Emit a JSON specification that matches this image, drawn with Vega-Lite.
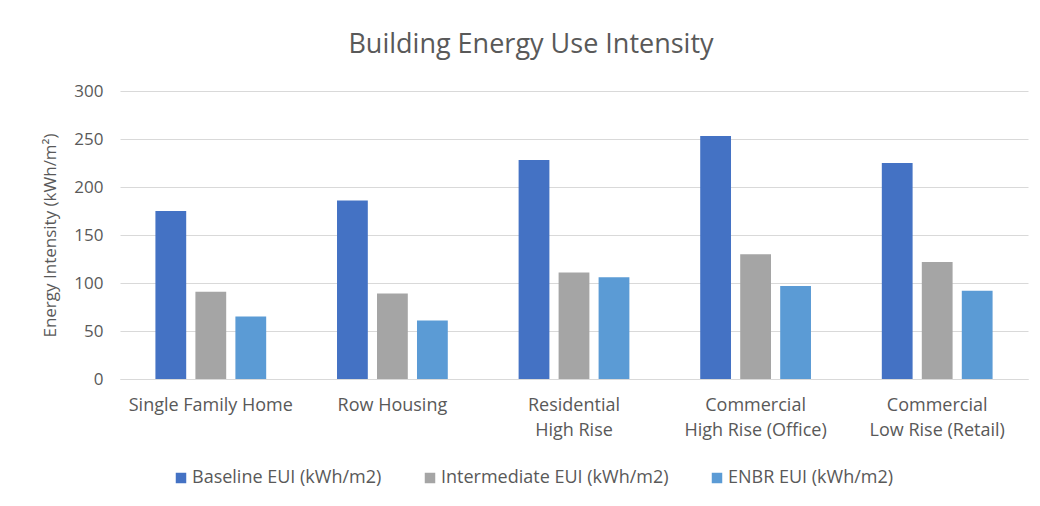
{
  "$schema": "https://vega.github.io/schema/vega-lite/v6.json",
  "width": 908,
  "height": 288,
  "autosize": {"type": "none"},
  "padding": {"left": 120, "top": 91, "right": 12, "bottom": 127},
  "background": "#ffffff",
  "title": {
    "text": "Building Energy Use Intensity",
    "anchor": "middle",
    "frame": "group",
    "dx": -43,
    "offset": 23,
    "font": "Open Sans",
    "fontSize": 27,
    "fontWeight": "normal",
    "color": "#595959"
  },
  "data": {
    "values": [
      {"building": "Single Family Home", "series": "Baseline EUI (kWh/m2)", "eui": 175},
      {"building": "Single Family Home", "series": "Intermediate EUI (kWh/m2)", "eui": 91},
      {"building": "Single Family Home", "series": "ENBR EUI (kWh/m2)", "eui": 65},
      {"building": "Row Housing", "series": "Baseline EUI (kWh/m2)", "eui": 186},
      {"building": "Row Housing", "series": "Intermediate EUI (kWh/m2)", "eui": 89},
      {"building": "Row Housing", "series": "ENBR EUI (kWh/m2)", "eui": 61},
      {"building": "Residential\nHigh Rise", "series": "Baseline EUI (kWh/m2)", "eui": 228},
      {"building": "Residential\nHigh Rise", "series": "Intermediate EUI (kWh/m2)", "eui": 111},
      {"building": "Residential\nHigh Rise", "series": "ENBR EUI (kWh/m2)", "eui": 106},
      {"building": "Commercial\nHigh Rise (Office)", "series": "Baseline EUI (kWh/m2)", "eui": 253},
      {"building": "Commercial\nHigh Rise (Office)", "series": "Intermediate EUI (kWh/m2)", "eui": 130},
      {"building": "Commercial\nHigh Rise (Office)", "series": "ENBR EUI (kWh/m2)", "eui": 97},
      {"building": "Commercial\nLow Rise (Retail)", "series": "Baseline EUI (kWh/m2)", "eui": 225},
      {"building": "Commercial\nLow Rise (Retail)", "series": "Intermediate EUI (kWh/m2)", "eui": 122},
      {"building": "Commercial\nLow Rise (Retail)", "series": "ENBR EUI (kWh/m2)", "eui": 92}
    ]
  },
  "mark": {"type": "bar"},
  "encoding": {
    "x": {
      "field": "building",
      "type": "nominal",
      "sort": null,
      "scale": {"paddingInner": 0.39, "paddingOuter": 0.195},
      "axis": {
        "title": null,
        "labelAngle": 0,
        "labelExpr": "split(datum.label, '\\n')",
        "labelLineHeight": 25,
        "labelPadding": 17,
        "labelBaseline": "top",
        "labelFontSize": 18,
        "labelLimit": 0,
        "ticks": false,
        "domainColor": "#d9d9d9",
        "grid": false
      }
    },
    "xOffset": {
      "field": "series",
      "type": "nominal",
      "sort": ["Baseline EUI (kWh/m2)", "Intermediate EUI (kWh/m2)", "ENBR EUI (kWh/m2)"],
      "scale": {"paddingInner": 0.23, "paddingOuter": 0}
    },
    "y": {
      "field": "eui",
      "type": "quantitative",
      "scale": {"domain": [0, 300], "nice": false},
      "axis": {
        "title": "Energy Intensity (kWh/m²)",
        "values": [0, 50, 100, 150, 200, 250, 300],
        "ticks": false,
        "domain": false,
        "labelFontSize": 17,
        "labelPadding": 17,
        "titlePadding": 14,
        "titleFontSize": 17,
        "gridColor": "#d9d9d9"
      }
    },
    "color": {
      "field": "series",
      "type": "nominal",
      "sort": ["Baseline EUI (kWh/m2)", "Intermediate EUI (kWh/m2)", "ENBR EUI (kWh/m2)"],
      "scale": {
        "domain": ["Baseline EUI (kWh/m2)", "Intermediate EUI (kWh/m2)", "ENBR EUI (kWh/m2)"],
        "range": ["#4472c4", "#a5a5a5", "#5b9bd5"]
      },
      "legend": {
        "title": null,
        "orient": "none",
        "direction": "horizontal",
        "legendX": 52,
        "legendY": 378,
        "symbolType": "square",
        "symbolSize": 110,
        "symbolStrokeWidth": 0,
        "labelOffset": 2,
        "labelLimit": 0,
        "columnPadding": 39
      }
    }
  },
  "config": {
    "font": "Open Sans",
    "view": {"stroke": null},
    "axis": {
      "labelFont": "Open Sans",
      "labelColor": "#595959",
      "titleFont": "Open Sans",
      "titleFontWeight": "normal",
      "titleColor": "#595959"
    },
    "legend": {
      "labelFont": "Open Sans",
      "labelFontSize": 18,
      "labelColor": "#595959"
    }
  }
}
